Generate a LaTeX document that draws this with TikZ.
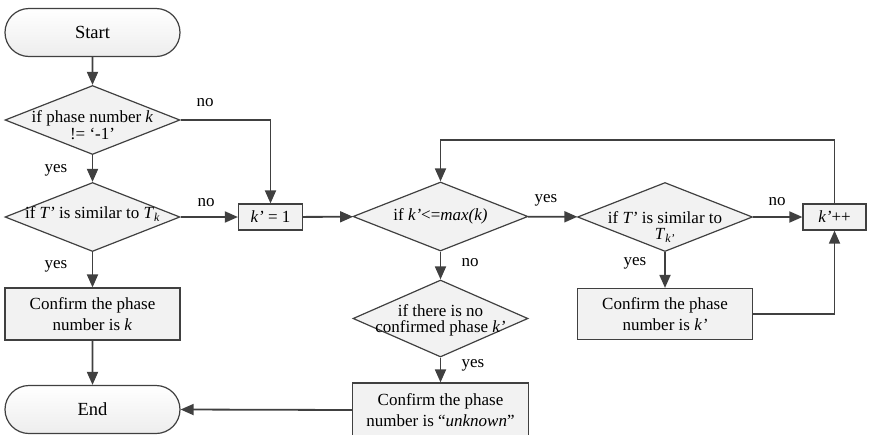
\documentclass[tikz,border=0pt]{standalone}
\usepackage{fontspec}
\setmainfont{Liberation Serif}
\usetikzlibrary{shapes.geometric,shapes.misc,arrows.meta}
\definecolor{line}{HTML}{404040}
\definecolor{boxfill}{HTML}{F2F2F2}
\tikzset{
  term/.style={rounded rectangle, draw=line, line width=1.2pt, top color=white, bottom color=black!7,
    minimum width=175pt, minimum height=48pt, inner sep=0pt, font=\fontsize{18.5}{22}\selectfont},
  proc/.style={rectangle, draw=line, line width=1.2pt, fill=boxfill, inner sep=0pt, align=center,
    font=\fontsize{17}{21}\selectfont},
  dec/.style={diamond, draw=line, line width=1.2pt, fill=boxfill, inner sep=0pt,
    minimum width=175pt, minimum height=69pt},
  dtext/.style={align=center, inner sep=0pt, font=\fontsize{17}{16.5}\selectfont},
  arr/.style={draw=line, line width=1.8pt, -{Triangle[length=13pt,width=11pt]}},
  lab/.style={font=\fontsize{17}{20}\selectfont},
}
\begin{document}
\begin{tikzpicture}[x=1pt,y=-1pt]
  \clip (0,0) rectangle (880,434);
  % left column
  \node[term] (start) at (92.5,32.5) {Start};
  \node[dec, label={[dtext,yshift=-5pt]center:if phase number \textit{k}\\!= ‘-1’}] (d1) at (92.5,120) {};
  \node[dec, label={[dtext,yshift=3pt]center:if \textit{T’} is similar to \textit{T}\textsubscript{\textit{k}}}] (d2) at (92.5,217) {};
  \node[proc, minimum width=175pt, minimum height=52pt] (ck) at (92.5,314) {Confirm the phase\\number is \textit{k}};
  \node[term] (end) at (92.5,409.5) {End};
  % middle
  \node[proc, minimum width=64pt, minimum height=26pt] (k1) at (270.5,217) {\textit{k’} = 1};
  \node[dec, label={[dtext]center:if \textit{k’}<=\textit{max(k)}}] (d3) at (440.5,216.5) {};
  \node[dec, minimum height=77pt, label={[dtext,yshift=-2pt]center:if there is no\\confirmed phase \textit{k’}}] (d5) at (440.5,318.5) {};
  \node[proc, minimum width=176pt, minimum height=54pt] (unk) at (440.5,410) {Confirm the phase\\number is “\textit{unknown}”};
  % right
  \node[dec, label={[dtext,yshift=-10pt]center:if \textit{T’} is similar to\\\textit{T}\textsubscript{\textit{k’}}}] (d4) at (665,217) {};
  \node[proc, minimum width=175pt, minimum height=51pt] (ck2) at (665,314) {Confirm the phase\\number is \textit{k’}};
  \node[proc, minimum width=63pt, minimum height=26pt] (kpp) at (834.5,217) {\textit{k’}++};
  \coordinate (ltop) at (834.5,140);

  % connectors
  \draw[arr] (start) -- (d1);
  \draw[arr] (d1.east) -| (k1.north);
  \draw[arr] (d1) -- (d2);
  \draw[arr] (d2) -- (k1);
  \draw[arr] (d2) -- (ck);
  \draw[arr] (ck) -- (end);
  \draw[arr] (k1) -- (d3);
  \draw[arr] (d3) -- (d4);
  \draw[arr] (d4) -- (kpp);
  \draw[arr] (kpp.north) -- (ltop) -| (d3.north);
  \draw[arr] (d3) -- (d5);
  \draw[arr] (d5) -- (unk);
  \draw[arr] (unk.west) -- (end.east);
  \draw[arr] (d4) -- (ck2);
  \draw[arr] (ck2.east) -| (kpp.south);

  % labels
  \node[lab] (no1) at (205,103) {no};
  \node[lab] (yes1) at (56,170) {yes};
  \node[lab] (no2) at (206,203) {no};
  \node[lab] (yes2) at (56,266) {yes};
  \node[lab] (yes3) at (546,200) {yes};
  \node[lab] (no3) at (470,263) {no};
  \node[lab] (yes5) at (473,365) {yes};
  \node[lab] (no4) at (777,202) {no};
  \node[lab] (yes4) at (635,263) {yes};
\end{tikzpicture}
\end{document}
